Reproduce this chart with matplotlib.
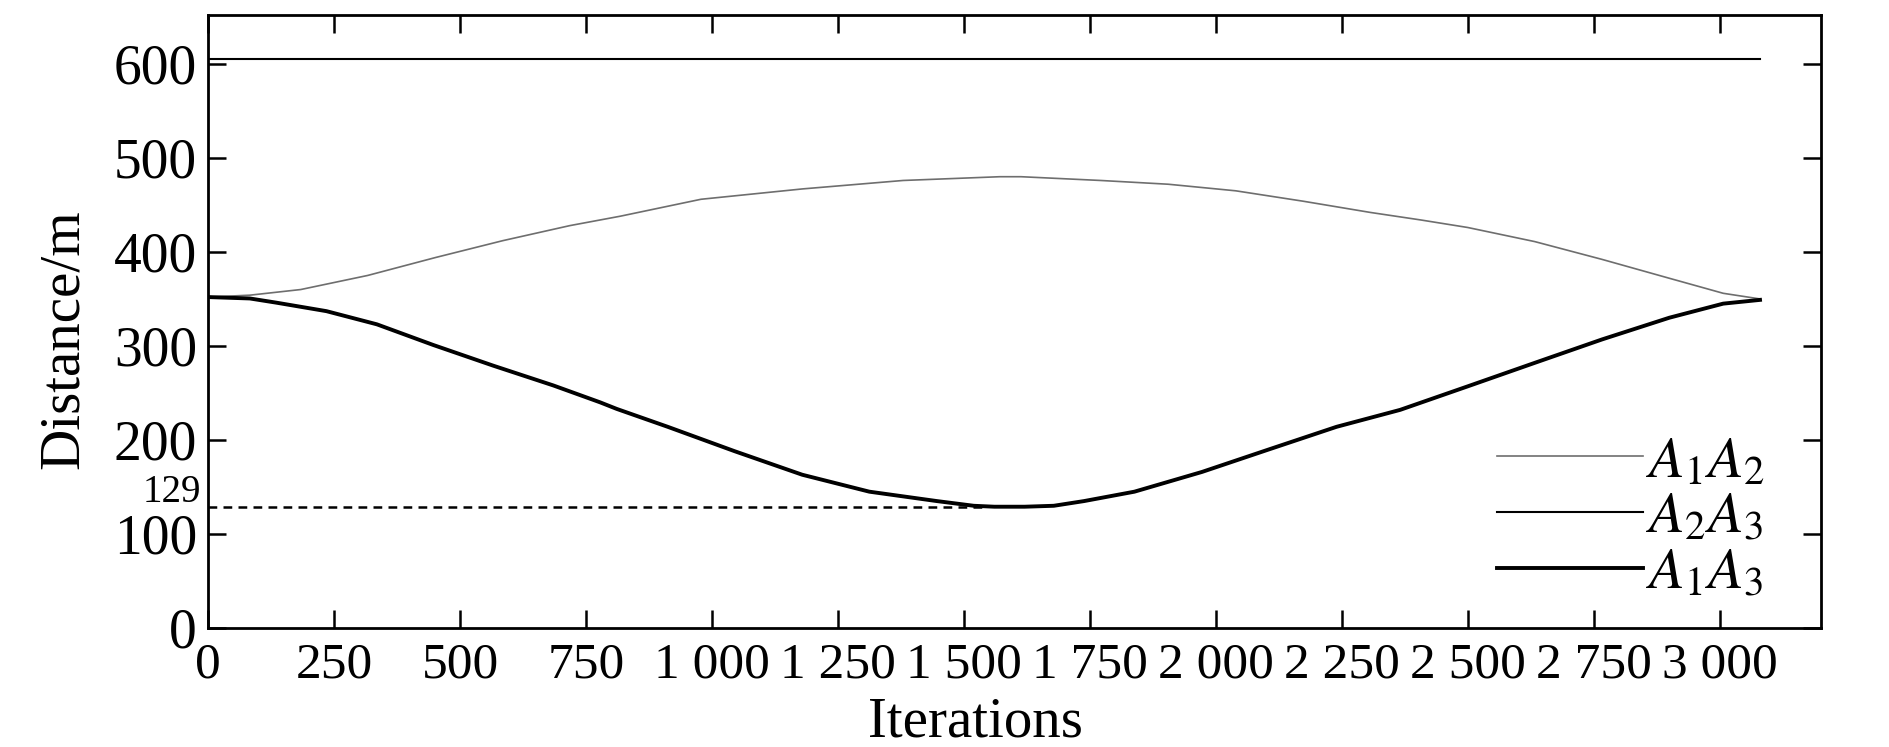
import matplotlib
matplotlib.use('Agg')
import matplotlib.pyplot as plt
from matplotlib.ticker import FuncFormatter, FixedLocator
from matplotlib.transforms import blended_transform_factory

plt.rcParams['font.family'] = ['Liberation Serif', 'DejaVu Serif']
plt.rcParams['mathtext.fontset'] = 'stix'

# ---- data ----
iter_a1a2 = [0, 83, 184, 317, 451, 585, 718, 818, 978, 1179, 1379, 1571, 1613,
             1771, 1905, 2039, 2172, 2306, 2406, 2499, 2632, 2766, 2899, 3006, 3079]
dist_a1a2 = [352, 354, 360, 375, 394, 412, 428, 438, 456, 467, 476, 480, 480,
             476, 472, 465, 454, 442, 434, 426, 411, 392, 372, 356, 350]

iter_a2a3 = [0, 3079]
dist_a2a3 = [605, 605]

iter_a1a3 = [0, 83, 136, 235, 335, 447, 566, 685, 778, 811, 912, 1045, 1179, 1312,
             1446, 1519, 1560, 1620, 1678, 1738, 1838, 1972, 2105, 2239, 2365, 2499,
             2632, 2766, 2899, 3006, 3079]
dist_a1a3 = [352, 350.5, 346, 337, 323, 301, 279, 258, 240, 233, 214, 188, 163, 145,
             135, 130, 129, 129, 130, 135, 145, 166, 190, 214, 232, 257,
             282, 307, 330, 345, 349]

min_value = 129
min_line_end = 1545

x_ticks = [0, 250, 500, 750, 1000, 1250, 1500, 1750, 2000, 2250, 2500, 2750, 3000]
y_ticks = [0, 100, 200, 300, 400, 500, 600]
labels = ['$A_1A_2$', '$A_2A_3$', '$A_1A_3$']

# ---- figure ----
W, H = 1890, 747
fig = plt.figure(figsize=(W / 100, H / 100), dpi=100)
left, right, top, bottom = 208, 1821, 15, 628
ax = fig.add_axes([left / W, 1 - bottom / H, (right - left) / W, (bottom - top) / H])

ax.hlines(min_value, 0, min_line_end, colors='black', linestyles=(0, (3.5, 2.5)),
          lw=1.8, zorder=1)
ax.plot(iter_a1a2, dist_a1a2, color='#6e6e6e', lw=1.2, label=labels[0], zorder=2)
ax.plot(iter_a2a3, dist_a2a3, color='black', lw=1.5, label=labels[1], zorder=2)
ax.plot(iter_a1a3, dist_a1a3, color='black', lw=2.8, label=labels[2], zorder=3)

ax.set_xlim(0, 3200)
ax.set_ylim(0, 652)
ax.xaxis.set_major_locator(FixedLocator(x_ticks))
ax.yaxis.set_major_locator(FixedLocator(y_ticks))
ax.xaxis.set_major_formatter(FuncFormatter(lambda v, p: f"{int(v):,}".replace(',', ' ')))

for s in ax.spines.values():
    s.set_linewidth(2.0)
ax.tick_params(direction='in', length=13, width=1.8, top=True, right=True)
ax.tick_params(axis='x', labelsize=37, pad=10)
ax.tick_params(axis='y', labelsize=40, pad=8)

ax.set_xlabel('Iterations', fontsize=41)
ax.xaxis.set_label_coords(0.476, -0.112)
ax.set_ylabel('Distance/m', fontsize=41)
ax.yaxis.set_label_coords(-0.073, 0.471)

trans = blended_transform_factory(ax.transAxes, ax.transData)
ax.text(-0.004, 134, str(min_value), transform=trans, ha='right', va='baseline',
        fontsize=28)

leg = ax.legend(loc='lower right', bbox_to_anchor=(0.965, 0.045), frameon=False,
                fontsize=42, handlelength=2.5, handletextpad=0.05,
                labelspacing=0.05, borderpad=0, borderaxespad=0)

fig.savefig('out.png', dpi=100)
